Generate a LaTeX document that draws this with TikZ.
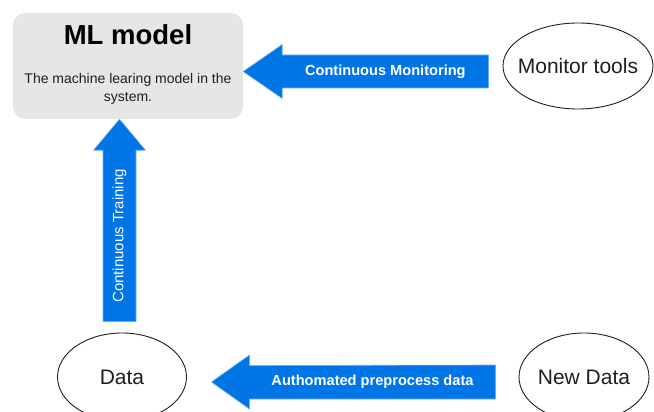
\documentclass[tikz,border=0pt]{standalone}
\usepackage{fontspec}
\setmainfont{Liberation Sans}
\usetikzlibrary{shapes.geometric,calc}
\definecolor{flowblue}{RGB}{0,117,230}
\definecolor{flowedge}{RGB}{120,175,240}
\definecolor{boxgray}{RGB}{230,230,230}
\definecolor{inkgray}{RGB}{30,30,30}
\tikzset{
  modelbox/.style={draw=none, fill=boxgray, rounded corners=12pt, inner sep=0pt,
    minimum width=230pt, minimum height=106pt},
  oval/.style={ellipse, draw=inkgray, line width=0.9pt, inner sep=0pt},
  ovaltext/.style={text=inkgray, font=\fontsize{21}{24}\selectfont},
  blockarrow/.style={fill=flowblue, draw=flowedge, line width=0.6pt},
  arrowlabel/.style={text=white, inner sep=0pt, font=\bfseries\fontsize{14.6}{17}\selectfont},
}
\begin{document}
\begin{tikzpicture}[x=1pt,y=-1pt]
\clip (0,0) rectangle (654,412);

% model box with its title and description
\node[modelbox] (ml) at (128,66) {};
\node[anchor=base, inner sep=0pt, font=\bfseries\fontsize{27.5}{30}\selectfont] (mlTitle) at (128,45) {ML model};
\node[align=center, inner sep=0pt, text=inkgray, font=\fontsize{14}{17.5}\selectfont] (mlDesc) at (128,89)
  {The machine learing model in the\\system.};

% the three ellipses
\node[oval, minimum width=150pt, minimum height=86pt,
  label={[ovaltext]center:Monitor tools}] (mon) at (578,66) {};
\node[oval, minimum width=129pt, minimum height=88pt,
  label={[ovaltext]center:Data}] (data) at (122,377) {};
\node[oval, minimum width=130pt, minimum height=88pt,
  label={[ovaltext]center:New Data}] (new) at (584,377) {};

% Continuous Monitoring: from the monitor tools into the model
\coordinate (cmTip) at ([yshift=-5.5pt]ml.east);
\coordinate (cmEnd) at ([xshift=-14pt]mon.west);
\coordinate (cmTail) at (cmTip -| cmEnd);
\path[blockarrow] (cmTip) -- ++(39,-27) -- ++(0,10.5) -- ([yshift=16.5pt]cmTail)
  -- ([yshift=-16.5pt]cmTail) -- ([xshift=39pt,yshift=-16.5pt]cmTip) -- ++(0,10.5) -- cycle;
\node[arrowlabel] (cmLabel) at ($(cmTip)!0.5!(cmTail)+(19.5,0)$) {Continuous Monitoring};

% Continuous Training: from the data up into the model
\coordinate (ctTip) at ([xshift=-8.5pt]ml.south);
\coordinate (ctEnd) at ([yshift=11pt]data.north);
\coordinate (ctTail) at (ctTip |- ctEnd);
\path[blockarrow] (ctTip) -- ++(26,31) -- ++(-9.5,0) -- ([xshift=16.5pt]ctTail)
  -- ([xshift=-16.5pt]ctTail) -- ([xshift=-16.5pt,yshift=-31pt]ctTip) -- ++(-9.5,0) -- cycle;
\node[arrowlabel, rotate=90, font=\fontsize{15}{17}\selectfont] (ctLabel)
  at ($(ctTip)!0.5!(ctTail)+(0,15.5)$) {Continuous Training};

% Authomated preprocess data: from the new data into the data
\coordinate (apTip) at ([xshift=24.5pt,yshift=-5pt]data.east);
\coordinate (apEnd) at ([xshift=-23pt]new.west);
\coordinate (apTail) at (apTip -| apEnd);
\path[blockarrow] (apTip) -- ++(38,-27) -- ++(0,10.5) -- ([yshift=17pt]apTail)
  -- ([yshift=-17pt]apTail) -- ([xshift=38pt,yshift=-17pt]apTip) -- ++(0,10) -- cycle;
\node[arrowlabel] (apLabel) at ($(apTip)!0.5!(apTail)+(19,0)$) {Authomated preprocess data};
\end{tikzpicture}
\end{document}
